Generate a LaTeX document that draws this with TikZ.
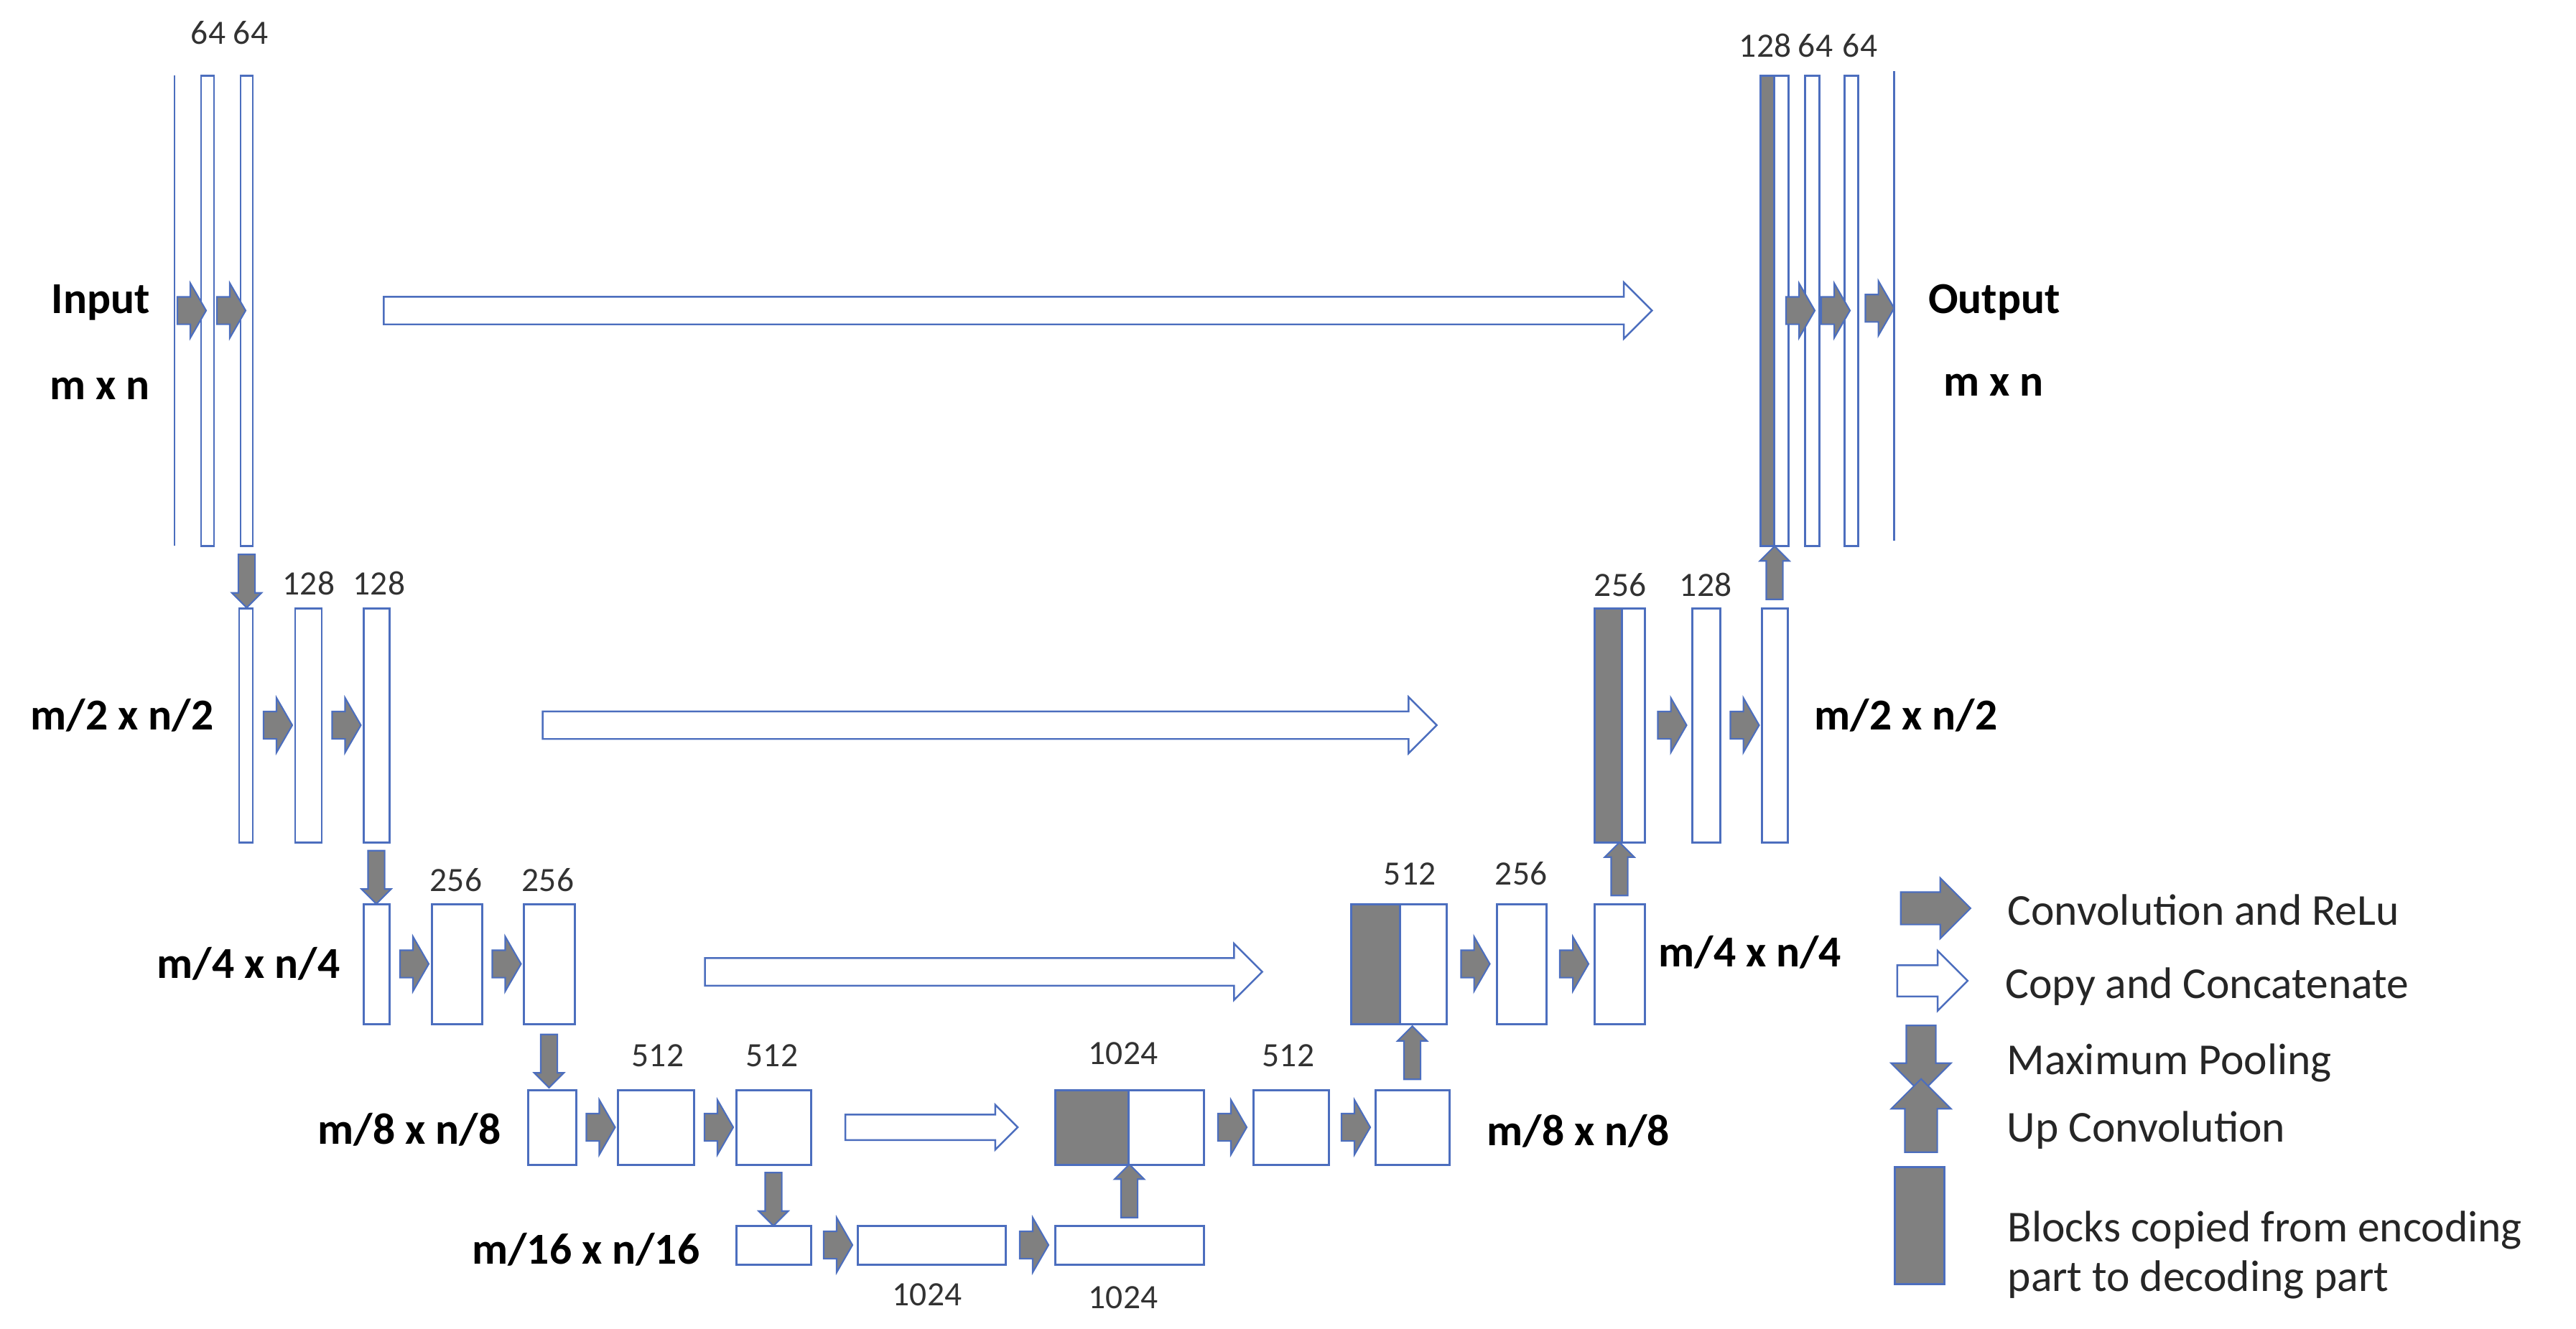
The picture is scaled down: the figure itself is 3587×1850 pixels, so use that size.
\documentclass[tikz,border=0pt]{standalone}
\usepackage{fontspec}
\setmainfont{Carlito}
\usepackage{tikz}
\usetikzlibrary{positioning, shapes.arrows}
\tikzstyle{unetPlane} = [x = 0.01cm, y = -0.01cm]
\definecolor{mapBlue}{RGB}{76,110,190}
\definecolor{copyGray}{RGB}{128,128,128}
\definecolor{numberColor}{RGB}{50,50,50}
\definecolor{legendColor}{RGB}{38,38,38}
\newcommand{\pxUnit}{0.01cm}
\tikzstyle{mapStyle} = [rectangle, draw = mapBlue, fill = white, line width = .85pt, inner sep = 0pt]
\tikzstyle{copiedStyle} = [mapStyle, fill = copyGray]
\tikzstyle{convArrow} = [single arrow, draw = mapBlue, fill = copyGray, line width = .6pt, inner xsep = 0pt, inner ysep = 0.18cm, single arrow tip angle = 120, single arrow head extend = 0.19cm, minimum height = 0.4cm]
\tikzstyle{poolArrow} = [convArrow, rotate = -90, single arrow tip angle = 90, inner ysep = 0.105cm, single arrow head extend = 0.09cm, minimum height = 0.74cm]
\tikzstyle{upArrow} = [convArrow, rotate = 90, single arrow tip angle = 90, inner ysep = 0.105cm, single arrow head extend = 0.09cm, minimum height = 0.74cm]
\tikzstyle{copyArrow} = [single arrow, draw = mapBlue, fill = white, line width = .7pt, inner xsep = 0pt, inner ysep = 0.18cm, single arrow tip angle = 90, single arrow head extend = 0.2cm]
\tikzstyle{numLabel} = [font = \fontsize{13.5}{16}\selectfont, text = numberColor, anchor = base, inner sep = 0pt]
\tikzstyle{sizeLabel} = [font = \fontsize{17.5}{21}\selectfont\bfseries, inner sep = 0pt]
\tikzstyle{legendText} = [font = \fontsize{17.5}{19.6}\selectfont, text = legendColor, inner sep = 0pt, align = left]
\newcommand{\featureMap}[5]{\node [mapStyle, minimum width = {(#3 - #2) * \pxUnit}, minimum height = {(#5 - #4) * \pxUnit}] (#1) at ({(#2 + #3) / 2}, {(#4 + #5) / 2}) {};}
\newcommand{\copiedMap}[5]{\node [copiedStyle, minimum width = {(#3 - #2) * \pxUnit}, minimum height = {(#5 - #4) * \pxUnit}] (#1) at ({(#2 + #3) / 2}, {(#4 + #5) / 2}) {};}
\newcommand{\channelLabel}[4]{\node [numLabel] (#1) at (#2, #3) {#4};}
\newcommand{\convStep}[2]{\path (#1.east) -- node [convArrow] (#1-#2) {} (#2.west);}
\newcommand{\poolStep}[2]{\path (#1.south) -- node [poolArrow] (#1-#2) {} (#1.south |- #2.north);}
\newcommand{\upStep}[2]{\path (#1.north) -- node [upArrow] (#1-#2) {} (#1.north |- #2.south);}
\newcommand{\copyStep}[5][]{\path (#2.east) -- node [copyArrow, pos = #5, minimum height = #4 * \pxUnit, #1] (#2-#3) {} (#3.west);}

\begin{document}
\begin{tikzpicture}[unetPlane]
  \useasboundingbox (0, 0) rectangle (3587, 1850);
  \featureMap{input}{243}{243}{105}{760}
  \featureMap{e1a}{280}{298}{105}{760}
  \featureMap{e1b}{335}{352}{105}{760}
  \featureMap{e2a}{333}{352}{847}{1173}
  \featureMap{e2b}{411}{448}{847}{1173}
  \featureMap{e2c}{506}{542}{847}{1173}
  \featureMap{e3a}{506}{542}{1259}{1426}
  \featureMap{e3b}{601}{671}{1259}{1426}
  \featureMap{e3c}{729}{800}{1259}{1426}
  \featureMap{e4a}{735}{802}{1518}{1622}
  \featureMap{e4b}{860}{966}{1518}{1622}
  \featureMap{e4c}{1025}{1129}{1518}{1622}
  \featureMap{e5a}{1025}{1129}{1707}{1761}
  \featureMap{e5b}{1194}{1400}{1707}{1761}
  \featureMap{e5c}{1469}{1676}{1707}{1761}
  \copiedMap{d4g}{1469}{1571}{1518}{1622}
  \featureMap{d4w}{1571}{1676}{1518}{1622}
  \featureMap{d4b}{1745}{1850}{1518}{1622}
  \featureMap{d4c}{1915}{2018}{1518}{1622}
  \copiedMap{d3g}{1881}{1949}{1259}{1426}
  \featureMap{d3w}{1949}{2014}{1259}{1426}
  \featureMap{d3b}{2084}{2153}{1259}{1426}
  \featureMap{d3c}{2220}{2290}{1259}{1426}
  \copiedMap{d2g}{2220}{2258}{847}{1173}
  \featureMap{d2w}{2258}{2290}{847}{1173}
  \featureMap{d2b}{2356}{2395}{847}{1173}
  \featureMap{d2c}{2453}{2489}{847}{1173}
  \copiedMap{d1g}{2451}{2470}{105}{760}
  \featureMap{d1w}{2470}{2490}{105}{760}
  \featureMap{d1b}{2513}{2533}{105}{760}
  \featureMap{d1c}{2568}{2587}{105}{760}
  \featureMap{output}{2637}{2637}{99}{753}

  \convStep{input}{e1a}
  \convStep{e1a}{e1b}
  \convStep{e2a}{e2b}
  \convStep{e2b}{e2c}
  \convStep{e3a}{e3b}
  \convStep{e3b}{e3c}
  \convStep{e4a}{e4b}
  \convStep{e4b}{e4c}
  \convStep{e5a}{e5b}
  \convStep{e5b}{e5c}
  \convStep{d4w}{d4b}
  \convStep{d4b}{d4c}
  \convStep{d3w}{d3b}
  \convStep{d3b}{d3c}
  \convStep{d2w}{d2b}
  \convStep{d2b}{d2c}
  \convStep{d1w}{d1b}
  \convStep{d1b}{d1c}
  \convStep{d1c}{output}
  \poolStep{e1b}{e2a}
  \poolStep{e2c}{e3a}
  \poolStep{e3c}{e4a}
  \poolStep{e4c}{e5a}
  \upStep{e5c}{d4w}
  \upStep{d4c}{d3w}
  \upStep{d3c}{d2w}
  \upStep{d2c}{d1w}
  \copyStep{e1b}{d1g}{1766}{0.503}
  \copyStep{e2c}{d2g}{1245}{0.4925}
  \copyStep[yshift = -0.11cm]{e3c}{d3g}{776}{0.518}
  \copyStep[inner ysep = 0.165cm, single arrow head extend = 0.135cm]{e4c}{d4g}{240}{0.468}

  \channelLabel{n1a}{290}{61}{64}
  \channelLabel{n1b}{349}{61}{64}
  \channelLabel{n1g}{2458}{79}{128}
  \channelLabel{n1d}{2528}{79}{64}
  \channelLabel{n1e}{2590}{79}{64}
  \channelLabel{n2a}{430}{828}{128}
  \channelLabel{n2b}{528}{828}{128}
  \channelLabel{n2g}{2256}{830}{256}
  \channelLabel{n2d}{2375}{830}{128}
  \channelLabel{n3a}{635}{1241}{256}
  \channelLabel{n3b}{763}{1241}{256}
  \channelLabel{n3g}{1963}{1232}{512}
  \channelLabel{n3d}{2118}{1232}{256}
  \channelLabel{n4a}{916}{1485}{512}
  \channelLabel{n4b}{1075}{1485}{512}
  \channelLabel{n4g}{1564}{1482}{1024}
  \channelLabel{n4d}{1794}{1485}{512}
  \channelLabel{n5b}{1291}{1818}{1024}
  \channelLabel{n5c}{1564}{1822}{1024}

  \node [sizeLabel, anchor = base] (inputText) at (140, 436) {Input};
  \node [sizeLabel, anchor = base] (inputSize) at (139, 556) {m x n};
  \node [sizeLabel, anchor = base] (outputText) at (2777, 436) {Output};
  \node [sizeLabel, anchor = base] (outputSize) at (2776, 551) {m x n};
  \node [sizeLabel, anchor = base east] (e2Size) at (298, 1016) {m/2 x n/2};
  \node [sizeLabel, anchor = base west] (d2Size) at (2526, 1016) {m/2 x n/2};
  \node [sizeLabel, anchor = base east] (e3Size) at (474, 1362) {m/4 x n/4};
  \node [sizeLabel, anchor = base west] (d3Size) at (2309, 1346) {m/4 x n/4};
  \node [sizeLabel, anchor = base east] (e4Size) at (698, 1593) {m/8 x n/8};
  \node [sizeLabel, anchor = base west] (d4Size) at (2070, 1595) {m/8 x n/8};
  \node [sizeLabel, anchor = base east] (e5Size) at (975, 1760) {m/16 x n/16};

  \node [convArrow, single arrow tip angle = 90, inner ysep = 0.215cm, single arrow head extend = 0.195cm, minimum height = 0.97cm] (legendConv) at (2684, 1265) {};
  \node [copyArrow, inner ysep = 0.205cm, single arrow head extend = 0.2cm, minimum height = 0.98cm] (legendCopy) at (2680, 1366) {};
  \node [poolArrow, inner ysep = 0.195cm, single arrow head extend = 0.21cm, minimum height = 0.94cm] (legendPool) at (2675, 1465) {};
  \node [upArrow, inner ysep = 0.215cm, single arrow head extend = 0.19cm, minimum height = 1.02cm] (legendUp) at (2675, 1565) {};
  \copiedMap{legendBlock}{2638}{2707}{1625}{1788}
  \node [legendText, anchor = base west] (convText) at (2795, 1288) {Convolution and ReLu};
  \node [legendText, anchor = base west] (copyText) at (2792, 1390) {Copy and Concatenate};
  \node [legendText, anchor = base west] (poolText) at (2794, 1496) {Maximum Pooling};
  \node [legendText, anchor = base west] (upText) at (2794, 1590) {Up Convolution};
  \node [legendText, anchor = west] (blockText) at (2795, 1748) {Blocks copied from encoding\\part to decoding part};
\end{tikzpicture}
\end{document}
